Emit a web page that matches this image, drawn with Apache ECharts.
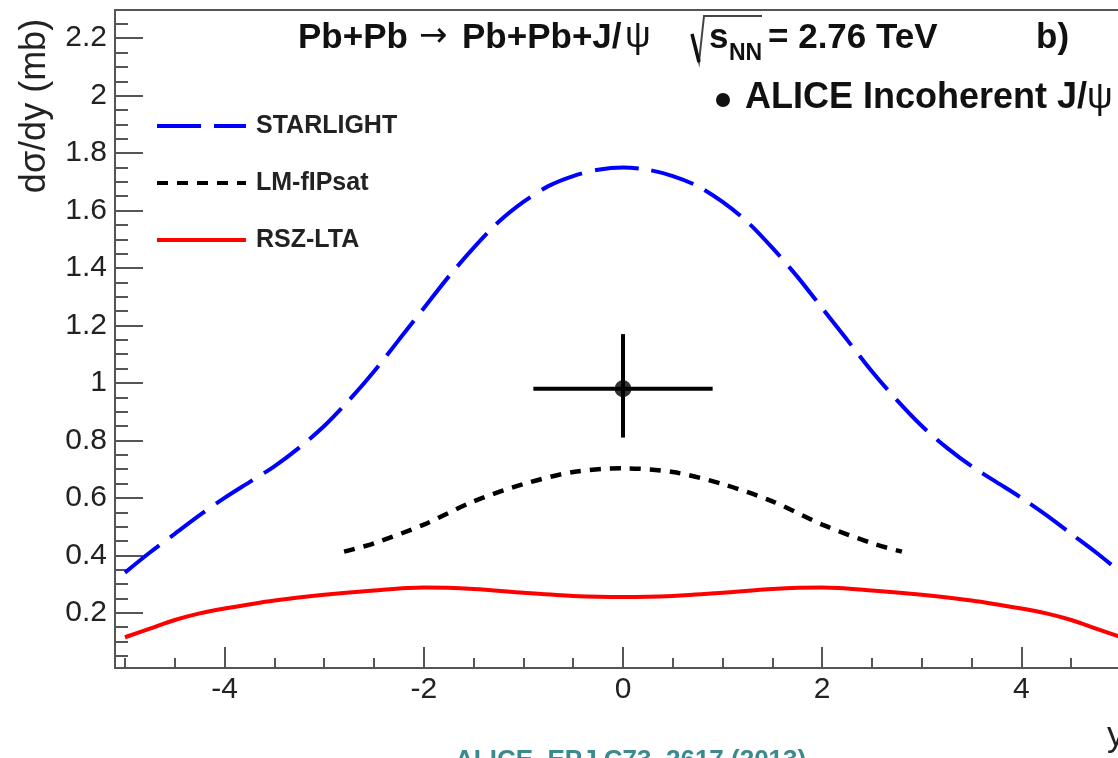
<!DOCTYPE html>
<html>
<head>
<meta charset="utf-8">
<script src="https://cdn.jsdelivr.net/npm/echarts@6/dist/echarts.min.js"></script>
<style>
html,body{margin:0;padding:0;background:#fff;}
#chart{width:1118px;height:758px;}
</style>
</head>
<body>
<div id="chart"></div>
<script>
// ---- data ----
const starX = [-5,-4.75,-4.5,-4.25,-4,-3.75,-3.5,-3.25,-3,-2.75,-2.5,-2.25,-2,-1.75,-1.5,-1.25,-1,-0.75,-0.5,-0.25,0,0.25,0.5,0.75,1,1.25,1.5,1.75,2,2.25,2.5,2.75,3,3.25,3.5,3.75,4,4.25,4.5,4.75,5];
const starY = [0.34,0.41,0.475,0.54,0.60,0.655,0.71,0.775,0.85,0.94,1.04,1.15,1.26,1.37,1.47,1.56,1.63,1.685,1.72,1.742,1.75,1.742,1.72,1.685,1.63,1.56,1.47,1.37,1.26,1.15,1.04,0.94,0.85,0.775,0.71,0.655,0.60,0.54,0.475,0.41,0.34];

const lmX = [-2.8,-2.5,-2,-1.5,-1,-0.5,0,0.5,1,1.5,2,2.5,2.8];
const lmY = [0.413,0.442,0.507,0.588,0.648,0.69,0.703,0.69,0.648,0.588,0.507,0.442,0.413];

const rszX = [-5,-4.75,-4.5,-4.25,-4,-3.5,-3,-2.5,-2,-1.5,-1,-0.5,0,0.5,1,1.5,2,2.5,3,3.5,4,4.25,4.5,4.75,5];
const rszY = [0.115,0.145,0.175,0.198,0.215,0.243,0.263,0.278,0.288,0.283,0.27,0.259,0.255,0.259,0.27,0.283,0.288,0.278,0.263,0.243,0.215,0.198,0.175,0.145,0.115];

const aliceX = [0];
const aliceY = [0.98];
const aliceXErr = [0.9];
const aliceYErrUp = [0.19];
const aliceYErrDown = [0.17];

const seriesNames = ['STARLIGHT','LM-fIPsat','RSZ-LTA'];

const xMajorTicks = [-4,-2,0,2,4];
const xMinorTicks = [-5,-4.5,-3.5,-3,-2.5,-1.5,-1,-0.5,0.5,1,1.5,2.5,3,3.5,4.5,5];
const yMajorTicks = [0.2,0.4,0.6,0.8,1,1.2,1.4,1.6,1.8,2,2.2];
const yMinorTicks = [];
for (let k = 1; k <= 45; k++) { if (k % 4 !== 0) yMinorTicks.push(Math.round(k * 5) / 100); }

const X_MIN = -5.1, X_MAX = 5.1, Y_MIN = 0.008, Y_MAX = 2.298;

// ---- chart ----
const FONT = '"Liberation Sans", Arial, Helvetica, sans-serif';
const AXC = '#555';
const chart = echarts.init(document.getElementById('chart'), null, {renderer:'canvas'});

function pairs(xs, ys){ return xs.map((x,i)=>[x, ys[i]]); }

const option = {
  backgroundColor: '#ffffff',
  animation: false,
  grid: {left:115, width:1016, top:10, bottom:90, containLabel:false, outerBoundsMode:'none'},
  xAxis: [
    {type:'value', min:X_MIN, max:X_MAX, position:'bottom',
     axisLine:{show:true, onZero:false, lineStyle:{color:AXC, width:2}},
     axisTick:{show:true, inside:true, length:21, customValues:xMajorTicks, lineStyle:{color:AXC, width:2}},
     axisLabel:{show:true, customValues:xMajorTicks, margin:7, fontSize:30, fontFamily:FONT, color:'#222'},
     splitLine:{show:false}},
    {type:'value', min:X_MIN, max:X_MAX, position:'bottom',
     axisLine:{show:false, onZero:false},
     axisTick:{show:true, inside:true, length:10, customValues:xMinorTicks, lineStyle:{color:AXC, width:2}},
     axisLabel:{show:false}, splitLine:{show:false}},
    {type:'value', min:X_MIN, max:X_MAX, position:'top',
     axisLine:{show:true, onZero:false, lineStyle:{color:AXC, width:2}},
     axisTick:{show:false}, axisLabel:{show:false}, splitLine:{show:false}}
  ],
  yAxis: [
    {type:'value', min:Y_MIN, max:Y_MAX, position:'left',
     axisLine:{show:true, onZero:false, lineStyle:{color:AXC, width:2}},
     axisTick:{show:true, inside:true, length:28, customValues:yMajorTicks, lineStyle:{color:AXC, width:2}},
     axisLabel:{show:true, customValues:yMajorTicks, margin:8, fontSize:30, fontFamily:FONT, color:'#222'},
     splitLine:{show:false}},
    {type:'value', min:Y_MIN, max:Y_MAX, position:'left',
     axisLine:{show:false, onZero:false},
     axisTick:{show:true, inside:true, length:13, customValues:yMinorTicks, lineStyle:{color:AXC, width:2}},
     axisLabel:{show:false}, splitLine:{show:false}}
  ],
  legend: {
    orient:'vertical', left:155, top:111, padding:0, itemWidth:89, itemHeight:14, itemGap:27,
    data: seriesNames,
    lineStyle:{width:4},
    itemStyle:{opacity:0},
    textStyle:{fontSize:25, fontWeight:'bold', fontFamily:FONT, color:'#222', lineHeight:30, padding:[0,0,0,5]}
  },
  series: [
    {name:seriesNames[0], type:'line', xAxisIndex:0, yAxisIndex:0, data:pairs(starX, starY),
     smooth:0.3, symbol:'none', lineStyle:{color:'#0000ff', width:4, type:[44,13]}, itemStyle:{color:'#0000ff'}},
    {name:seriesNames[1], type:'line', xAxisIndex:0, yAxisIndex:0, data:pairs(lmX, lmY),
     smooth:0.3, symbol:'none', lineStyle:{color:'#000000', width:4.5, type:[11,9]}, itemStyle:{color:'#000000'}},
    {name:seriesNames[2], type:'line', xAxisIndex:0, yAxisIndex:0, data:pairs(rszX, rszY),
     smooth:0.3, symbol:'none', lineStyle:{color:'#ff0000', width:4}, itemStyle:{color:'#ff0000'}},
    {name:'ALICE err', type:'custom', xAxisIndex:0, yAxisIndex:0,
     data: aliceX.map((x,i)=>[x, aliceY[i], aliceXErr[i], aliceYErrUp[i], aliceYErrDown[i]]),
     renderItem: function(params, api){
       const x = api.value(0), y = api.value(1), xe = api.value(2), yu = api.value(3), yd = api.value(4);
       const a = api.coord([x - xe, y]), b = api.coord([x + xe, y]);
       const c = api.coord([x, y + yu]), d = api.coord([x, y - yd]);
       const st = {stroke:'#000', lineWidth:4};
       return {type:'group', children:[
         {type:'line', shape:{x1:a[0], y1:a[1], x2:b[0], y2:b[1]}, style:st},
         {type:'line', shape:{x1:c[0], y1:c[1], x2:d[0], y2:d[1]}, style:st}
       ]};
     }, z:5},
    {name:'ALICE Incoherent J/ψ', type:'scatter', xAxisIndex:0, yAxisIndex:0, data:pairs(aliceX, aliceY),
     symbol:'circle', symbolSize:17, itemStyle:{color:'#000'}, z:6}
  ],
  graphic: [
    {type:'text', x:35, y:106, rotation:Math.PI/2,
     style:{text:'dσ/dy (mb)', font:'36px ' + FONT, fill:'#222', align:'center', verticalAlign:'middle', textAlign:'center', textVerticalAlign:'middle'}},
    {type:'text', x:298, y:38, style:{text:'Pb+Pb', font:'bold 35px ' + FONT, fill:'#111', verticalAlign:'middle', textVerticalAlign:'middle'}},
    {type:'text', x:419, y:37, style:{text:'→', font:'34px "DejaVu Sans", ' + FONT, fill:'#111', verticalAlign:'middle', textVerticalAlign:'middle'}},
    {type:'text', x:462, y:38, style:{text:'Pb+Pb+J/', font:'bold 35px ' + FONT, fill:'#111', verticalAlign:'middle', textVerticalAlign:'middle'}},
    {type:'text', x:625, y:37, style:{text:'ψ', font:'36px ' + FONT, fill:'#111', verticalAlign:'middle', textVerticalAlign:'middle'}},
    {type:'polyline', shape:{points:[[692,34],[699,62],[704,16],[762,16]]}, style:{stroke:'#444', lineWidth:2, fill:null}},
    {type:'line', shape:{x1:692, y1:34, x2:699, y2:62}, style:{stroke:'#111', lineWidth:3.5}},
    {type:'text', x:709, y:38, style:{text:'s', font:'bold 35px ' + FONT, fill:'#111', verticalAlign:'middle', textVerticalAlign:'middle'}},
    {type:'text', x:729, y:54, style:{text:'NN', font:'bold 23px ' + FONT, fill:'#111', verticalAlign:'middle', textVerticalAlign:'middle'}},
    {type:'text', x:768, y:38, style:{text:'= 2.76 TeV', font:'bold 35px ' + FONT, fill:'#111', verticalAlign:'middle', textVerticalAlign:'middle'}},
    {type:'text', x:1036, y:38, style:{text:'b)', font:'bold 35px ' + FONT, fill:'#111', verticalAlign:'middle', textVerticalAlign:'middle'}},
    {type:'circle', shape:{cx:723, cy:100, r:7}, style:{fill:'#111'}},
    {type:'text', x:745, y:98, style:{text:'ALICE Incoherent J/', font:'bold 36px ' + FONT, fill:'#111', verticalAlign:'middle', textVerticalAlign:'middle'}},
    {type:'text', x:1087, y:98, style:{text:'ψ', font:'36px ' + FONT, fill:'#111', verticalAlign:'middle', textVerticalAlign:'middle'}},
    {type:'text', x:1107, y:736, style:{text:'y', font:'35px ' + FONT, fill:'#222', verticalAlign:'middle', textVerticalAlign:'middle'}},
    {type:'text', x:455, y:761, style:{text:'ALICE, EPJ C73, 2617 (2013)', font:'bold 26px ' + FONT, fill:'#3b8a8e', verticalAlign:'middle', textVerticalAlign:'middle'}}
  ]
};
chart.setOption(option);
</script>
</body>
</html>
